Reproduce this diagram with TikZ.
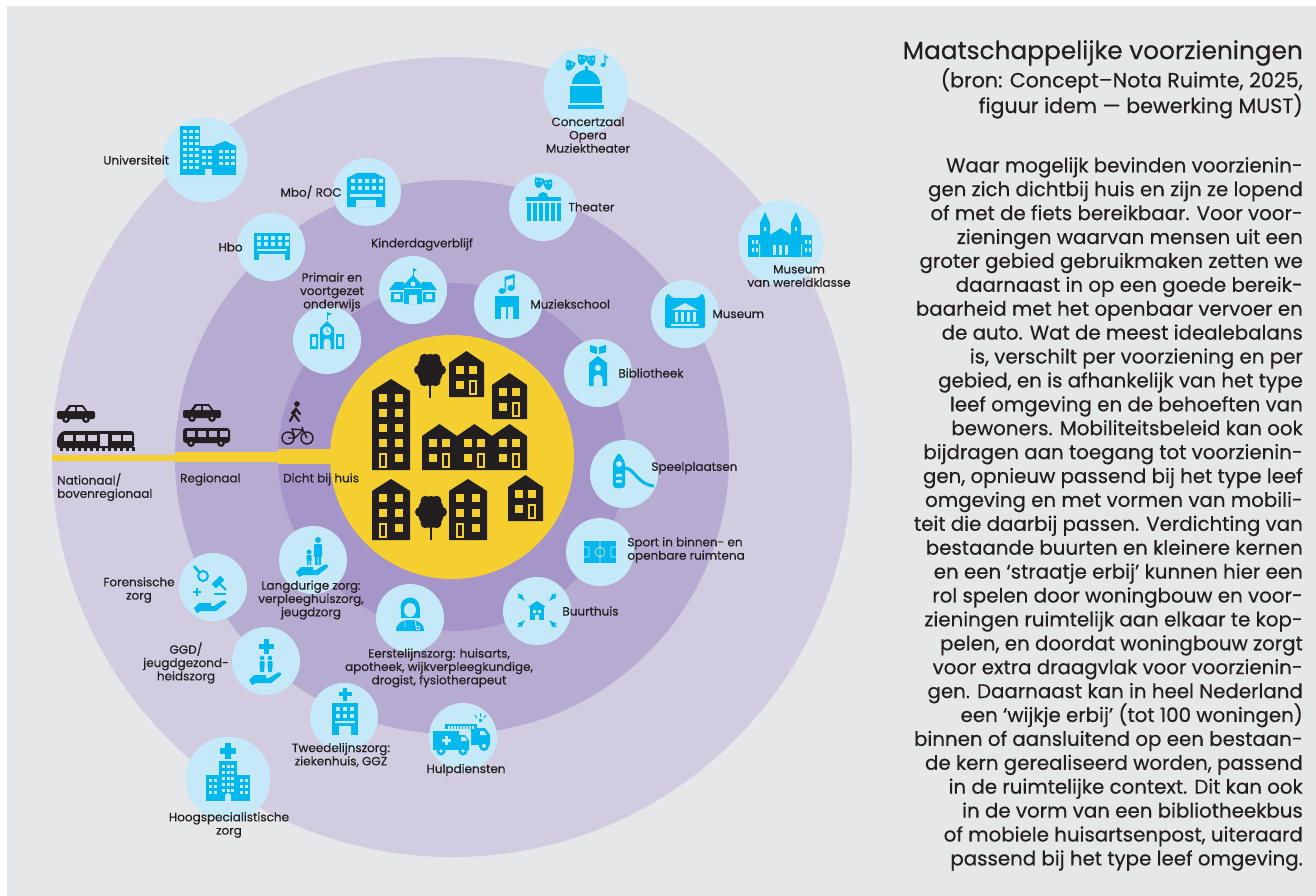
\documentclass[tikz,border=0pt]{standalone}
\usepackage{fontspec}
\setmainfont{Poppins}[FakeBold=0.45]
\usetikzlibrary{positioning}

\definecolor{bggrey}{HTML}{E6E7E9}
\definecolor{ringout}{HTML}{D1CCE0}
\definecolor{ringmid}{HTML}{B6ACD2}
\definecolor{ringin}{HTML}{A695C8}
\definecolor{kern}{HTML}{F4CF2F}
\definecolor{bubblefill}{HTML}{C6E9F9}
\definecolor{iconblue}{HTML}{00B7EE}
\definecolor{ink}{HTML}{231F20}

% woning: links x, onder y, breedte, rijen ramen, deur links (0) of rechts (1)
\newcommand{\huis}[5]{%
  \fill[ink] (#1,#2) -- ++(0,{-15*#4-4}) -- ++({#3/2},-12) -- ++({#3/2},12) -- ++(0,{15*#4+4}) -- cycle;
  \foreach \rij in {1,...,#4} {
    \fill[kern] ({#1+7},{#2-15*#4-1+15*(\rij-1)}) rectangle ++(8,8);
    \fill[kern] ({#1+#3-15},{#2-15*#4-1+15*(\rij-1)}) rectangle ++(8,8);
  }
  \fill[kern] ({#1+7+#5*(#3-22)},{#2-17}) rectangle ++(8,15);
  \fill[ink] ({#1+9+#5*(#3-22)},{#2-15}) rectangle ++(4,11);
}
% boom: x, midden kruin, onderkant stam
\newcommand{\boom}[3]{%
  \draw[ink, line width=2] (#1,#3) -- (#1,#2);
  \fill[ink] (#1,#2) ellipse (13 and 16);
  \foreach \h in {0,60,...,300} \fill[ink] ($(#1,#2)+(\h:11 and 13)$) circle (5);
}
\newcommand{\auto}[3]{%
  \fill[ink, rounded corners=2] (#1,{#2-2}) rectangle ({#1+38},{#2-10});
  \fill[ink] ({#1+7},{#2-9}) -- ({#1+12},{#2-16}) -- ({#1+26},{#2-16}) -- ({#1+31},{#2-9}) -- cycle;
  \fill[#3] ({#1+11},{#2-10}) -- ({#1+14},{#2-14}) -- ({#1+18},{#2-14}) -- ({#1+18},{#2-10}) -- cycle;
  \fill[#3] ({#1+20},{#2-10}) -- ({#1+20},{#2-14}) -- ({#1+25},{#2-14}) -- ({#1+28},{#2-10}) -- cycle;
  \fill[ink] ({#1+9},{#2-2}) circle (4) ({#1+29},{#2-2}) circle (4);
  \fill[#3] ({#1+9},{#2-2}) circle (1.5) ({#1+29},{#2-2}) circle (1.5);
}
\newcommand{\kruis}[3]{%
  \fill ({#1-#3/6},{#2-#3/2}) rectangle ({#1+#3/6},{#2+#3/2});
  \fill ({#1-#3/2},{#2-#3/6}) rectangle ({#1+#3/2},{#2+#3/6});
}
\newcommand{\hand}[2]{%
  \fill[shift={(#1,#2)}] (-17,3) -- (-12,-2) -- (0,-2) -- (0,1) -- (3,1) -- (11,-4)
    .. controls (14,-6) and (17,-3) .. (14,-1) -- (5,6) -- (-10,6) -- (-14,8) -- cycle;
}
% toneelmasker: x, y, kanteling
\newcommand{\masker}[3]{%
  \fill[rotate around={#3:(#1,#2)}] ({#1-4.5},{#2-4}) -- ({#1+4.5},{#2-4}) .. controls ({#1+5},{#2+3}) and ({#1+2},{#2+6}) .. (#1,{#2+6})
    .. controls ({#1-2},{#2+6}) and ({#1-5},{#2+3}) .. ({#1-4.5},{#2-4}) -- cycle;
  \fill[bubblefill] ({#1-2},{#2-1}) circle (1) ({#1+2},{#2-1}) circle (1);
}
\usetikzlibrary{calc}

\begin{document}
\begin{tikzpicture}[x=1pt, y=-1pt,
    bubble/.style={circle, fill=bubblefill, minimum size=68pt, inner sep=0pt},
    grotebubble/.style={bubble, minimum size=85pt},
    lbl/.style={font=\fontsize{12}{13.3}\selectfont, text=ink, align=center, inner sep=0pt},
    icoon/.style={shift={#1}, color=iconblue}]

\useasboundingbox (0,0) rectangle (1316,896);
\fill[white] (0,0) rectangle (1316,896);
\fill[bggrey] (7,6) rectangle (1316,896);

% ringen
\fill[ringout] (452,457) circle (400);
\fill[ringmid] (452,457) circle (277);
\fill[ringin] (452,457) circle (174);
\fill[kern] (52,455) rectangle (175,461);
\fill[kern] (175,452) rectangle (278,462);
\fill[kern] (278,449) rectangle (340,464);
\fill[kern] (452,457) circle (122);

% woningen
\huis{372}{470}{38}{5}{0}
\boom{430}{370}{398}
\huis{449}{397}{35}{2}{1}
\huis{492}{419}{35}{2}{1}
\huis{422}{470}{35}{2}{1}
\huis{457}{470}{35}{2}{1}
\huis{492}{470}{35}{2}{1}
\huis{372}{540}{38}{3}{0}
\boom{431}{512}{540}
\huis{449}{540}{38}{3}{0}
\huis{508}{521}{35}{2}{1}

% vervoer
\auto{57}{421}{ringout}
\fill[ink, rounded corners=3] (57,448) -- (57,438) -- (62,431) -- (134,431) -- (134,448) -- cycle;
\foreach \x in {64,76,88,112,123} \fill[ringout] (\x,435) rectangle ++(9,6);
\fill[ringout] (100,434) rectangle (108,446);
\foreach \x in {60,66,...,132} \fill[ink] (\x,447) rectangle ++(3,4);
\auto{183}{420}{ringmid}
\fill[ink, rounded corners=3] (183,428) rectangle (230,443);
\foreach \x in {187,198,209,220} \fill[ringmid] (\x,431) rectangle ++(8,6);
\fill[ink] (191,443) circle (4) (221,443) circle (4);
\fill[ringmid] (191,443) circle (1.5) (221,443) circle (1.5);
\fill[ink] (297,404) circle (2.8);
\draw[ink, line width=2.2, line cap=round] (296,408) -- (294,414) -- (290,421) (294,414) -- (299,421)
  (296,409) -- (292,413) (296,409) -- (300,414);
\draw[ink, line width=1.4] (288,438) circle (6) (307,438) circle (6)
  (288,438) -- (295,438) -- (303,430) -- (307,438) (295,438) -- (292,429) -- (303,430) -- (302,427);

\node[lbl, anchor=north west, align=left] (nationaal) at (57,473) {Nationaal/\\bovenregionaal};
\node[lbl, anchor=north west] (regionaal) at (180,473) {Regionaal};
\node[lbl, anchor=north west] (dichtbij) at (283,473) {Dicht bij huis};

% voorzieningen
\node[grotebubble] (univ) at (205,160) {};
\node[lbl, left=-7pt of univ] {Universiteit};
\node[grotebubble] (concert) at (586,90) {};
\node[lbl] at (588,135) {Concertzaal\\Opera\\Muziektheater};
\node[bubble] (mbo) at (367,192) {};
\node[lbl, left=-9pt of mbo] {Mbo/ ROC};
\node[bubble] (theater) at (543,207) {};
\node[lbl, right=-9pt of theater] {Theater};
\node[bubble] (hbo) at (271,247) {};
\node[lbl, left=-6pt of hbo] {Hbo};
\node[bubble] (kdv) at (413,290) {};
\node[lbl, above=5pt of kdv, xshift=9pt] {Kinderdagverblijf};
\node[bubble] (school) at (327,340) {};
\node[lbl] at (332,292) {Primair en\\voortgezet\\onderwijs};
\node[bubble] (muziek) at (508,304) {};
\node[lbl, right=-12pt of muziek] {Muziekschool};
\node[grotebubble] (wereld) at (781,243) {};
\node[lbl] at (799,276) {Museum\\van wereldklasse};
\node[bubble] (museum) at (685,314) {};
\node[lbl, right=-7pt of museum] {Museum};
\node[bubble] (biblio) at (598,373) {};
\node[lbl, right=-14pt of biblio] {Bibliotheek};
\node[bubble] (speel) at (624,474) {};
\node[lbl, right=-7pt of speel, yshift=6pt] {Speelplaatsen};
\node[bubble] (sport) at (600,552) {};
\node[lbl, right=-7pt of sport, yshift=2pt, align=left] {Sport in binnen- en\\openbare ruimtena};
\node[bubble] (buurt) at (537,611) {};
\node[lbl, right=-9pt of buurt] {Buurthuis};
\node[bubble] (langdurig) at (313,560) {};
\node[lbl] at (311,600) {Langdurige zorg:\\verpleeghuiszorg,\\jeugdzorg};
\node[bubble] (forensisch) at (213,587) {};
\node[lbl] at (139,590) {Forensische\\zorg};
\node[bubble] (eerste) at (410,618) {};
\node[lbl] at (439,668) {Eerstelijnszorg: huisarts,\\apotheek, wijkverpleegkundige,\\drogist, fysiotherapeut};
\node[bubble] (ggd) at (266,661) {};
\node[lbl] at (186,663) {GGD/\\jeugdgezond-\\heidszorg};
\node[bubble] (tweede) at (344,717) {};
\node[lbl] at (341,755) {Tweedelijnszorg:\\ziekenhuis, GGZ};
\node[bubble] (hulp) at (463,737) {};
\node[lbl] at (466,770) {Hulpdiensten};
\node[grotebubble] (hoog) at (228,779) {};
\node[lbl] at (229,825) {Hoogspecialistische\\zorg};

% pictogrammen
\begin{scope}[icoon={(205,160)}]
  \fill (-25,-34) rectangle (-5,15);
  \fill (-8,-14) rectangle (10,15);
  \fill (10,15) -- (10,-15) -- (20,-19) -- (31,-14) -- (31,15) -- cycle;
  \foreach \y in {-30,-24,...,6} \foreach \x in {-22,-16,-10} \fill[bubblefill] (\x,\y) rectangle ++(3.5,3.5);
  \foreach \y in {-10,-4,2} \foreach \x in {-3,3,14,20,26} \fill[bubblefill] (\x,\y) rectangle ++(3.5,3.5);
  \fill[bubblefill] (0,9) rectangle (7,15);
\end{scope}
\begin{scope}[icoon={(586,90)}]
  \fill (-14,-6) arc (180:360:14) -- cycle;
  \fill (-1.5,-24) rectangle (1.5,-19);
  \fill (-16,-4) rectangle (16,13);
  \fill (-18,15) rectangle (18,19);
  \masker{-4}{-31}{-10}
  \masker{5}{-30}{10}
  \masker{-16}{-25}{-25}
  \fill (17,-25) ellipse (2.5 and 2);
  \draw[line width=1.2] (19,-25) -- (19,-34) -- (22,-32);
\end{scope}
\begin{scope}[icoon={(543,207)}]
  \masker{-4}{-25}{-10}
  \masker{5}{-23}{10}
  \fill (-5,-10) arc (180:360:5) -- cycle;
  \fill (-17,-10) rectangle (18,-6);
  \foreach \x in {-16,-10,...,14} \fill (\x,-4) rectangle ++(3.5,18);
\end{scope}
\begin{scope}[icoon={(367,192)}]
  \fill (-20,15) -- (-20,-14) -- (-10,-19) -- (8,-19) -- (18,-14) -- (18,15) -- cycle;
  \foreach \x in {-16,-9,...,12} \fill[bubblefill] (\x,-13) rectangle ++(4,4) (\x,-6) rectangle ++(4,4);
  \fill[bubblefill] (-17,2) rectangle (15,5);
  \fill[bubblefill] (-11,8) rectangle (9,15);
\end{scope}
\begin{scope}[icoon={(271,247)}]
  \fill (-17,-14) rectangle (19,13);
  \foreach \x in {-14,-7,...,14} \fill[bubblefill] (\x,-11) rectangle ++(4,4) (\x,-5) rectangle ++(4,4);
  \fill[bubblefill] (-14,2) rectangle (16,4);
  \fill[bubblefill] (-12,7) rectangle (14,13);
\end{scope}
\begin{scope}[icoon={(413,290)}]
  \draw[line width=0.8] (0,-14) -- (0,-22);
  \fill (0,-22) -- (4,-20) -- (0,-18) -- cycle;
  \fill (-12,-2) -- (0,-15) -- (12,-2) -- cycle;
  \fill (-24,0) -- (-18,-8) -- (-9,-8) -- (-9,0) -- cycle;
  \fill (24,0) -- (18,-8) -- (9,-8) -- (9,0) -- cycle;
  \fill (-22,2) rectangle (-10,12) (10,2) rectangle (22,12) (-9,-1) rectangle (9,14);
  \fill[bubblefill] (-19,4) rectangle ++(6,5) (13,4) rectangle ++(6,5) (-4,5) rectangle (4,14);
  \fill[bubblefill] (0,-6) circle (2.5);
\end{scope}
\begin{scope}[icoon={(327,340)}]
  \draw[line width=0.8] (0,-20) -- (0,-28);
  \fill (0,-28) -- (5,-26) -- (0,-24) -- cycle;
  \fill (-7,9) -- (-7,-12) -- (0,-19) -- (7,-12) -- (7,9) -- cycle;
  \fill (-17,-6) rectangle (-9,9) (9,-6) rectangle (17,9);
  \fill[bubblefill] (0,-9) circle (4.5);
  \draw[line width=0.8] (0,-12) -- (0,-9) -- (2,-8);
  \fill[bubblefill] (-15,-3) rectangle (-11,6) (11,-3) rectangle (15,6);
  \fill[bubblefill] (-3.5,9) -- (-3.5,2) arc (180:360:3.5) -- (3.5,9) -- cycle;
\end{scope}
\begin{scope}[icoon={(508,304)}]
  \fill (-13,-8) rectangle (11,15);
  \fill[bubblefill] (-7,3) rectangle (-2,15) (0,3) rectangle (5,15);
  \fill (-6,-13) ellipse (3.5 and 3) (3,-16) ellipse (3.5 and 3);
  \fill (-3.5,-13) -- (-3.5,-27) -- (6.5,-30) -- (6.5,-16) -- (5,-16) -- (5,-26) -- (-2,-24) -- (-2,-13) -- cycle;
\end{scope}
\begin{scope}[icoon={(598,373)}]
  \fill (-1,-19) -- (-8,-21) -- (-8,-28) -- (-1,-26) -- cycle;
  \fill (1,-19) -- (8,-21) -- (8,-28) -- (1,-26) -- cycle;
  \fill (-9,13) -- (-9,-10) -- (0,-17) -- (9,-10) -- (9,13) -- cycle;
  \fill[bubblefill] (0,-5) circle (3);
  \fill[bubblefill] (-4.5,13) -- (-4.5,6) arc (180:360:4.5) -- (4.5,13) -- cycle;
\end{scope}
\begin{scope}[icoon={(685,314)}]
  \fill[rounded corners=2] (-20,14) -- (-20,-16) -- (-17,-21) -- (-13,-16) -- (13,-16) -- (17,-21) -- (20,-16) -- (20,14) -- cycle;
  \fill[bubblefill] (-13,-4) -- (0,-11) -- (13,-4) -- cycle;
  \foreach \x in {-10,-4,2,8} \fill[bubblefill] (\x,-2) rectangle ++(2.5,10);
  \fill[bubblefill] (-14,10) rectangle (14,12);
\end{scope}
\begin{scope}[icoon={(781,243)}]
  \fill (-33,14) rectangle (31,-8);
  \fill (-21,14) -- (-21,-20) -- (-16,-31) -- (-11,-20) -- (-11,14) -- cycle;
  \fill (10,14) -- (10,-20) -- (15,-31) -- (20,-20) -- (20,14) -- cycle;
  \fill (-11,-8) -- (0,-15) -- (10,-8) -- cycle;
  \foreach \x in {-29,-25,24,28} \fill[bubblefill] (\x,-3) rectangle ++(2,4) (\x,5) rectangle ++(2,4);
  \foreach \x in {-8,-2,4} \fill[bubblefill] (\x,12) rectangle ++(3,-10);
  \fill[bubblefill] (-17,-16) rectangle ++(2,4) (14,-16) rectangle ++(2,4);
  \fill[bubblefill] (-22,1) rectangle (-21,14) (20,1) rectangle (21,14);
\end{scope}
\begin{scope}[icoon={(624,474)}]
  \fill[rounded corners=3] (-11,14) -- (-11,-12) -- (-5,-22) -- (1,-12) -- (1,14) -- cycle;
  \fill[bubblefill] (-5,-10) circle (3);
  \fill[bubblefill] (-8,0) rectangle (-2,2.5) (-8,6) rectangle (-2,8.5);
  \draw[line width=3] (1,-6) .. controls (10,-6) and (14,11) .. (30,12);
\end{scope}
\begin{scope}[icoon={(600,552)}]
  \fill (-16,-11) rectangle (16,11);
  \draw[bubblefill, line width=0.8] (0,-11) -- (0,11) (0,0) circle (5)
    (-16,-5) -- (-11,-5) -- (-11,5) -- (-16,5) (16,-5) -- (11,-5) -- (11,5) -- (16,5);
\end{scope}
\begin{scope}[icoon={(537,611)}]
  \fill (-9,-4) -- (0,-10) -- (9,-4) -- cycle;
  \fill (-7,-4) rectangle (7,9);
  \fill[bubblefill] (-4,-1) rectangle (-1,2) (1,-1) rectangle (4,2) (-2,4) rectangle (2,9);
  \draw[line width=1.6, -latex] (-19,-17) -- (-12,-10);
  \draw[line width=1.6, -latex] (19,-17) -- (12,-10);
  \draw[line width=1.6, -latex] (-19,16) -- (-12,9);
  \draw[line width=1.6, -latex] (19,16) -- (12,9);
\end{scope}
\begin{scope}[icoon={(313,560)}]
  \hand{0}{9}
  \fill (5,-20) circle (3);
  \fill[rounded corners=1] (1,-16) rectangle (9,-3);
  \fill (2,-4) rectangle (4.5,5) (5.5,-4) rectangle (8,5);
  \fill (-4,-8) circle (2.5);
  \fill[rounded corners=1] (-6.5,-5) rectangle (-1.5,1);
  \fill (-6,0) rectangle (-4.5,5) (-3.5,0) rectangle (-2,5);
\end{scope}
\begin{scope}[icoon={(213,587)}]
  \draw[line width=2] (-10,-11) circle (5);
  \draw[line width=2.5] (-14,-15) -- (-19,-21);
  \fill[rotate around={45:(5,-5)}] (-1,-8) rectangle (11,-2);
  \draw[line width=2] (5,-5) -- (13,3);
  \fill (1,6) rectangle (13,8);
  \kruis{-16}{5}{8}
  \hand{-2}{18}
\end{scope}
\begin{scope}[icoon={(410,618)}]
  \fill (0,-11) circle (9.5);
  \fill (-9.5,-11) rectangle (9.5,0);
  \fill[bubblefill] (0,-8) ellipse (6 and 7);
  \fill (-14,13) .. controls (-14,5) and (-8,3) .. (-3,2) -- (3,2) .. controls (8,3) and (14,5) .. (14,13) -- cycle;
  \draw[bubblefill, line width=0.8] (-5,3) -- (-5,9) (5,3) -- (6,8) (8,10) circle (2);
\end{scope}
\begin{scope}[icoon={(266,661)}]
  \kruis{0}{-15}{15}
  \fill (-4,-3) circle (2.3) (4,-3) circle (2.3);
  \fill[rounded corners=1] (-6.5,0) rectangle (-1.5,7) (1.5,0) rectangle (6.5,7);
  \fill (-6,6) rectangle (-2,11) (2,6) rectangle (6,11);
  \hand{0}{16}
\end{scope}
\begin{scope}[icoon={(344,717)}]
  \kruis{1}{-23}{13}
  \fill (-12,-14) rectangle (14,18);
  \foreach \y in {-10,-3} \foreach \x in {-8,-1,6} \fill[bubblefill] (\x,\y) rectangle ++(4,4);
  \fill[bubblefill] (-9,4) rectangle (11,6) (-5,9) rectangle (7,18);
\end{scope}
\begin{scope}[icoon={(463,737)}]
  \fill (-18,-13) rectangle (14,8);
  \fill (14,-9) -- (22,-9) -- (27,-2) -- (27,8) -- (14,8) -- cycle;
  \foreach \x in {-15,-12,...,9} \fill[bubblefill] (\x,-11) rectangle ++(1.5,3);
  \fill[bubblefill] (17,-6) -- (21,-6) -- (24,-2) -- (17,-2) -- cycle;
  \fill (21,9) circle (5);
  \fill[bubblefill] (21,9) circle (2);
  \fill (16,-18) rectangle (19,-15);
  \draw[line width=1] (17.5,-20) -- (17.5,-24) (14,-19) -- (12,-22) (21,-19) -- (23,-22);
  \fill[bubblefill, rounded corners=2] (-32,-8) rectangle (8,17);
  \fill (-30,-6) rectangle (-4,13);
  \fill (-4,-2) -- (2,-2) -- (6,4) -- (6,13) -- (-4,13) -- cycle;
  \begin{scope}[color=bubblefill]
    \kruis{-17}{3}{9}
  \end{scope}
  \fill[bubblefill] (-2,0) -- (2,0) -- (4,4) -- (-2,4) -- cycle;
  \fill (-22,14) circle (4.5) (0,14) circle (4.5);
  \fill[bubblefill] (-22,14) circle (1.8) (0,14) circle (1.8);
\end{scope}
\begin{scope}[icoon={(228,779)}]
  \kruis{0}{-28}{16}
  \fill (-9,-18) rectangle (9,22);
  \fill (-22,-4) rectangle (22,22);
  \foreach \y in {-14,-8,-2,4,10} \foreach \x in {-6,-1.5,3} \fill[bubblefill] (\x,\y) rectangle ++(3,3);
  \foreach \y in {0,6,12} \foreach \x in {-19,-14,12,17} \fill[bubblefill] (\x,\y) rectangle ++(3,3);
  \fill[bubblefill] (-3,22) -- (-3,17) arc (180:360:3) -- (3,22) -- cycle;
\end{scope}

% tekst
\node[anchor=north east, inner sep=0pt, text=ink, font=\fontsize{24.8}{28}\selectfont] (titel) at (1303,40) {Maatschappelijke voorzieningen};
\node[below left=2pt and 0pt of titel.south east, inner sep=0pt, text=ink, align=right,
  font=\fontsize{20.6}{21}\selectfont] (bron) {(bron: Concept–Nota Ruimte, 2025,\\figuur idem — bewerking MUST)};
\node[anchor=north east, inner sep=0pt, text=ink, align=right, font=\fontsize{19.8}{23.9}\selectfont] (tekst) at (1303,157) {%
Waar mogelijk bevinden voorzienin-\\
gen zich dichtbij huis en zijn ze lopend\\
of met de fiets bereikbaar. Voor voor-\\
zieningen waarvan mensen uit een\\
groter gebied gebruikmaken zetten we\\
daarnaast in op een goede bereik-\\
baarheid met het openbaar vervoer en\\
de auto. Wat de meest idealebalans\\
is, verschilt per voorziening en per\\
gebied, en is afhankelijk van het type\\
leef omgeving en de behoeften van\\
bewoners. Mobiliteitsbeleid kan ook\\
bijdragen aan toegang tot voorzienin-\\
gen, opnieuw passend bij het type leef\\
omgeving en met vormen van mobili-\\
teit die daarbij passen. Verdichting van\\
bestaande buurten en kleinere kernen\\
en een ‘straatje erbij’ kunnen hier een\\
rol spelen door woningbouw en voor-\\
zieningen ruimtelijk aan elkaar te kop-\\
pelen, en doordat woningbouw zorgt\\
voor extra draagvlak voor voorzienin-\\
gen. Daarnaast kan in heel Nederland\\
een ‘wijkje erbij’ (tot 100 woningen)\\
binnen of aansluitend op een bestaan-\\
de kern gerealiseerd worden, passend\\
in de ruimtelijke context. Dit kan ook\\
in de vorm van een bibliotheekbus\\
of mobiele huisartsenpost, uiteraard\\
passend bij het type leef omgeving.};
\end{tikzpicture}
\end{document}
